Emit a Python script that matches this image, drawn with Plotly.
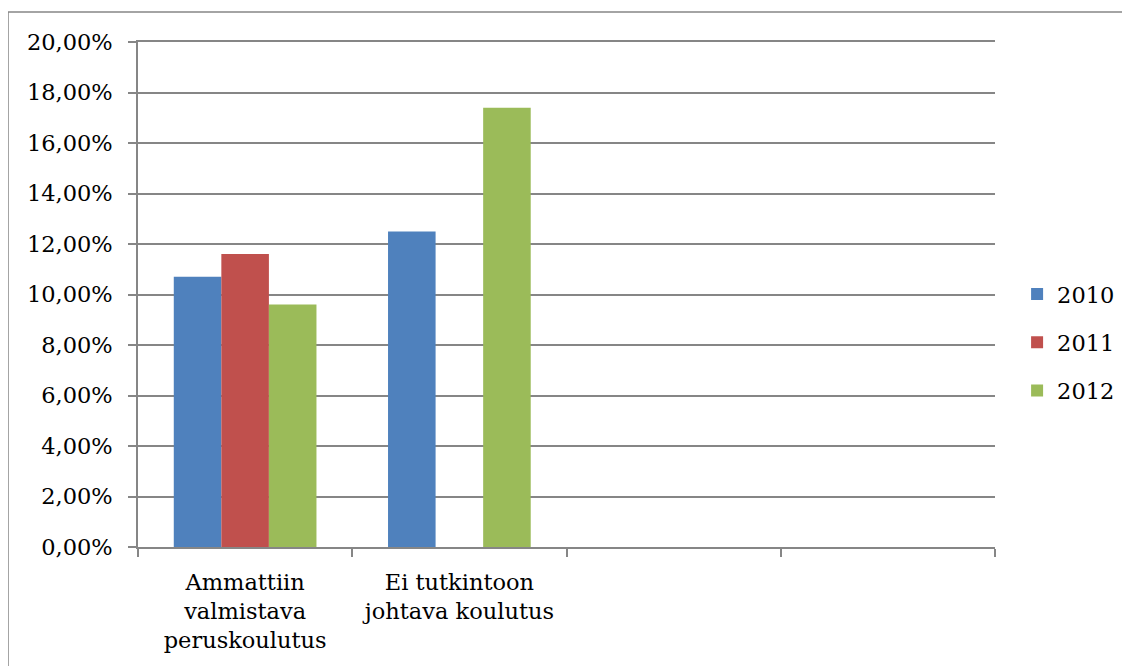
import plotly.graph_objects as go

categories = ["Ammattiin<br>valmistava<br>peruskoulutus", "Ei tutkintoon<br>johtava koulutus", " ", "  "]
years = ["2010", "2011", "2012"]
values_2010 = [0.107, 0.125, None, None]
values_2011 = [0.116, None, None, None]
values_2012 = [0.096, 0.174, None, None]
colors = ["#4F81BD", "#C0504D", "#9BBB59"]
y_ticks = [0.0, 0.02, 0.04, 0.06, 0.08, 0.10, 0.12, 0.14, 0.16, 0.18, 0.20]

series = [values_2010, values_2011, values_2012]
FONT = "DejaVu Serif"
FS = 22.5
GRID = "#868686"

fig = go.Figure()
for i, (name, vals, col) in enumerate(zip(years, series, colors)):
    fig.add_trace(go.Bar(
        x=categories, y=vals, name=name, marker=dict(color=col, line=dict(width=0)),
        legendgroup=name,
    ))

fig.update_layout(
    width=1130, height=666,
    paper_bgcolor="white", plot_bgcolor="white",
    margin=dict(l=130, r=143, t=34, b=127, autoexpand=False),
    barmode="group", bargap=0.334, bargroupgap=0,
    separators=", ",
    font=dict(family=FONT, size=FS, color="black"),
    showlegend=True,
    legend=dict(xref="container", yref="container", x=0.893, y=0.498,
                xanchor="left", yanchor="middle",
                font=dict(family=FONT, size=FS), tracegroupgap=16,
                itemwidth=30, bgcolor="rgba(0,0,0,0)"),
    xaxis=dict(
        type="category", categoryorder="array", categoryarray=categories,
        range=[-0.5, 3.5], tickson="boundaries", ticks="outside", ticklen=8,
        tickcolor=GRID, tickwidth=1.5, showline=True, linecolor=GRID, linewidth=1.5,
        mirror=True,
        showgrid=False, tickfont=dict(family=FONT, size=FS), fixedrange=True,
        ticklabelstandoff=14,
    ),
    yaxis=dict(
        range=[0, 0.2], tickvals=y_ticks, tickformat=".2%", ticks="outside", ticklen=8,
        tickcolor=GRID, tickwidth=1.5, showline=True, linecolor=GRID, linewidth=1.5,
        showgrid=True, gridcolor=GRID, gridwidth=1.5, zeroline=False,
        tickfont=dict(family=FONT, size=FS), ticklabelstandoff=11,
    ),
    shapes=[dict(type="rect", xref="paper", yref="paper",
                 x0=-0.1517, x1=1.17, y0=-0.25, y1=1.0594,
                 line=dict(color=GRID, width=1.5), fillcolor="rgba(0,0,0,0)", layer="below")],
)

fig.write_html("out.html")
